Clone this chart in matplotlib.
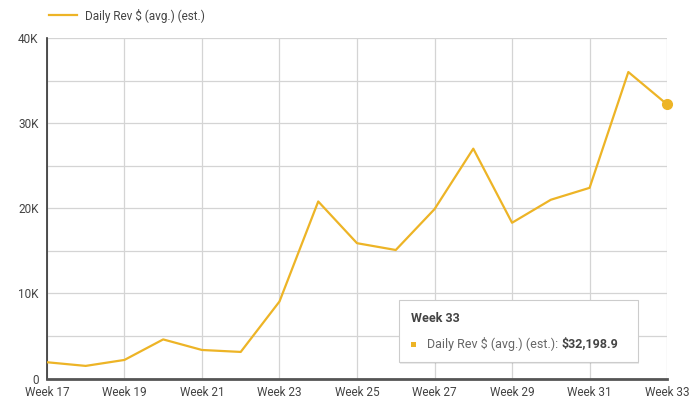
import numpy as np
import matplotlib.pyplot as plt
from matplotlib.patches import Rectangle
from matplotlib.ticker import FuncFormatter, MultipleLocator

plt.rcParams['font.family'] = ['Roboto', 'DejaVu Sans']

weeks = list(range(17, 34))
rev = [1920, 1490, 2190, 4600, 3360, 3130, 9050, 20800, 15900, 15100,
       19900, 27000, 18300, 21000, 22400, 36000, 32198.9]
series_name = "Daily Rev $ (avg.) (est.)"
line_col = '#EDB426'
txt_col = '#444444'

fig = plt.figure(figsize=(7, 4.2), dpi=100)
ax = fig.add_axes([0.067, 0.0986, 0.886, 0.811])

ax.plot(weeks, rev, color=line_col, lw=1.6, label=series_name, zorder=3)
ax.plot(weeks[-1], rev[-1], 'o', color=line_col, ms=7, zorder=4, clip_on=False)

ax.set_xlim(17, 33)
ax.set_ylim(0, 40000)
ax.set_xticks(range(17, 34, 2))
ax.set_xticklabels(['Week %d' % w for w in range(17, 34, 2)])
ax.yaxis.set_major_locator(MultipleLocator(10000))
ax.yaxis.set_minor_locator(MultipleLocator(5000))
ax.yaxis.set_major_formatter(FuncFormatter(lambda v, p: '0' if v == 0 else '%dK' % (v / 1000)))
ax.grid(True, which='both', color='#d4d4d4', lw=0.9)
ax.set_axisbelow(True)
ax.tick_params(which='both', length=0, labelsize=8.5, labelcolor=txt_col, pad=6)
ax.tick_params(axis='x', pad=5)
for s in ['top', 'right']:
    ax.spines[s].set_visible(False)
ax.spines['left'].set_color('#333333')
ax.spines['left'].set_linewidth(1.2)
ax.spines['bottom'].set_color('#555555')
ax.spines['bottom'].set_linewidth(2)

leg = fig.legend(loc='upper left', bbox_to_anchor=(0.055, 1.005), frameon=False,
                 fontsize=8.5, handlelength=2.4, handletextpad=0.6)
for t in leg.get_texts():
    t.set_color(txt_col)

# hover tooltip
x0, y0, w, h = 399 / 700, 1 - 362 / 420, 239 / 700, 62 / 420
fig.patches.append(Rectangle((x0 + 0.002, y0 - 0.005), w, h, transform=fig.transFigure,
                             facecolor='#000000', alpha=0.08, edgecolor='none', zorder=5))
fig.patches.append(Rectangle((x0, y0), w, h, transform=fig.transFigure,
                             facecolor='white', edgecolor='#cccccc', lw=0.8, zorder=6))
fig.text(411 / 700, 1 - 319 / 420, 'Week %d' % weeks[-1], fontsize=9, fontweight='bold',
         color=txt_col, va='center', zorder=7)
fig.patches.append(Rectangle((411 / 700, 1 - 347 / 420), 5 / 700, 5 / 420, transform=fig.transFigure,
                             facecolor=line_col, edgecolor='none', zorder=7))
t1 = fig.text(427 / 700, 1 - 344 / 420, series_name + ': ', fontsize=9, color='#666666',
              va='center', zorder=7)
fig.canvas.draw()
bb = t1.get_window_extent()
fig.text(bb.x1 / fig.bbox.width, 1 - 344 / 420, '${:,.1f}'.format(rev[-1]), fontsize=9,
         fontweight='bold', color=txt_col, va='center', zorder=7)

fig.savefig('out.png', dpi=100)
